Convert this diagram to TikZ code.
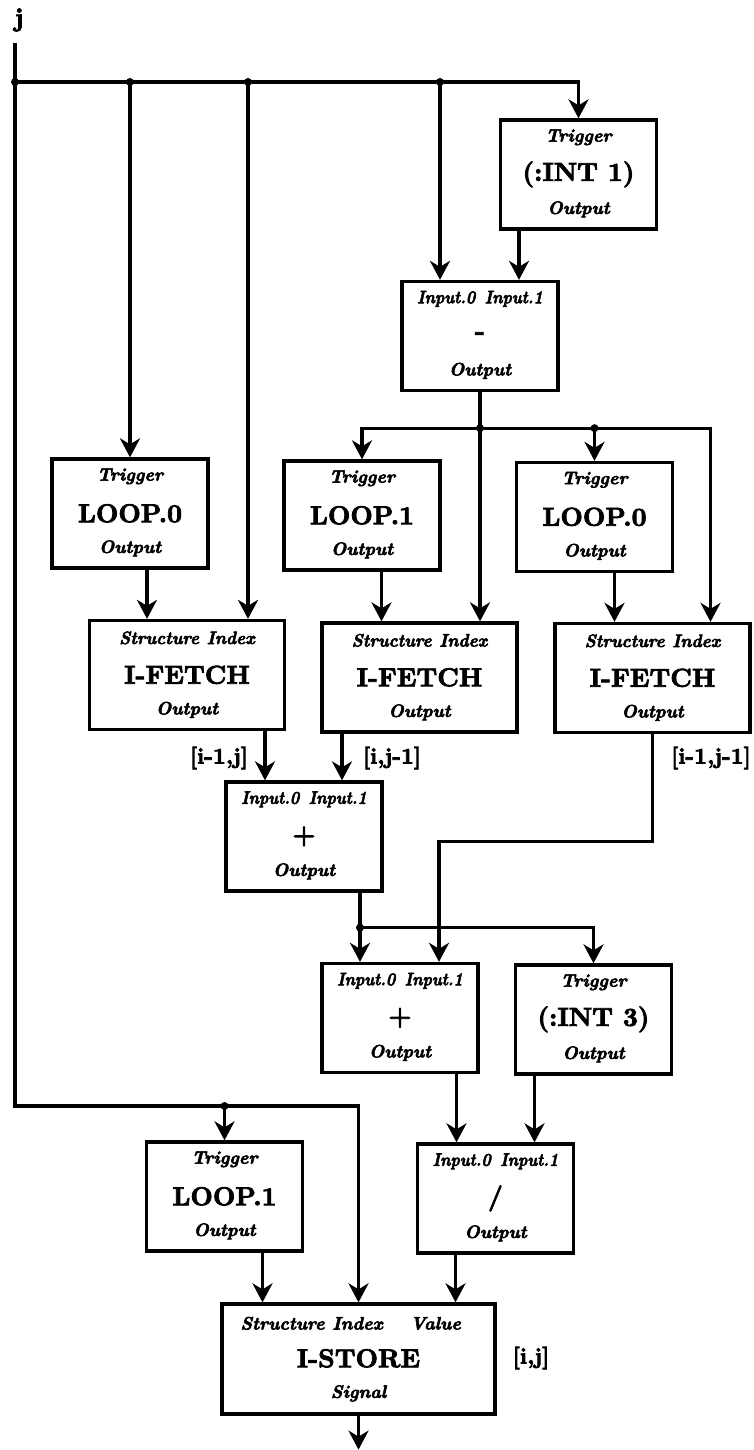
\documentclass[tikz,border=0pt]{standalone}
\usepackage{fontspec}
\usetikzlibrary{arrows.meta,calc}
\newfontface\bigface{lmroman10-bold.otf}[FakeBold=3]
\newfontface\smface{lmroman10-bolditalic.otf}[FakeBold=3]
\newcommand\smf{\smface\fontsize{18}{20}\selectfont}
\newcommand\bgf{\bigface\fontsize{26}{28}\selectfont}
\newcommand\lbf{\bigface\fontsize{22.5}{24}\selectfont}
\newcommand\jf{\bigface\fontsize{26}{28}\selectfont}
\tikzset{
  box/.style={draw, line width=3.3pt, minimum width=156pt, minimum height=109pt, inner sep=0pt},
  wide/.style={box, minimum width=195pt},
  arr/.style={-{Stealth[length=19pt,width=20pt,inset=6pt]}},
  dot/.style={circle, fill, inner sep=0pt, minimum size=8pt},
  port/.style={font=\smf, inner sep=0pt},
  op/.style={font=\bgf, inner sep=0pt},
  lab/.style={font=\lbf, inner sep=0pt},
}
% name, style, center, top text, middle text, bottom text
\newcommand\blk[6]{%
  \node[#2] (#1) at (#3) {};
  \node[port] (#1-t) at ([yshift=-19pt]#1.north) {#4};
  \node[op]   (#1-m) at ([yshift=-56pt]#1.north) {#5};
  \node[port] (#1-b) at ([yshift=-91pt]#1.north) {#6};}
\newcommand\inp{\scalebox{0.88}[1]{Input.0\hspace{0.6em}Input.1}}
\newcommand\sti{\scalebox{0.95}[1]{Structure\hspace{0.45em}Index}}
\begin{document}
\begin{tikzpicture}[x=1pt,y=-1pt,line width=3.2pt]
\useasboundingbox (0,0) rectangle (753,1450);

% blocks
\blk{T1}{box}{578.5,174.5}{Trigger}{(:INT 1)}{Output}
\blk{M}{box}{480,336}{\inp}{-}{Output}
\blk{L0a}{box}{130,513.5}{Trigger}{LOOP.0}{Output}
\blk{L1a}{box}{362,515.5}{Trigger}{LOOP.1}{Output}
\blk{L0b}{box}{594.5,517}{Trigger}{LOOP.0}{Output}
\blk{F1}{wide}{187,675}{\sti}{I-FETCH}{Output}
\blk{F2}{wide}{419.5,677.5}{\sti}{I-FETCH}{Output}
\blk{F3}{wide}{652.5,678}{\sti}{I-FETCH}{Output}
\blk{P1}{box}{304,836.5}{\inp}{+}{Output}
\blk{P2}{box}{400,1018}{\inp}{+}{Output}
\blk{T3}{box}{593.5,1019.5}{Trigger}{(:INT 3)}{Output}
\blk{L1b}{box}{224.5,1196.5}{Trigger}{LOOP.1}{Output}
\blk{D}{box}{495.5,1198.5}{\inp}{/}{Output}
\blk{S}{box,minimum width=273pt,minimum height=110pt}{358.5,1359}{}{I-STORE}{Signal}
\node[port] (S-s) at ([xshift=-76pt,yshift=-21pt]S.north) {Structure};
\node[port] (S-i) at ([xshift=-1pt,yshift=-21pt]S.north) {Index};
\node[port] (S-v) at ([xshift=77pt,yshift=-21pt]S.north) {Value};

% labels
\node[font=\jf, inner sep=0pt] (jl) at (19,20) {j};
\node[lab] (l1) at (219,758) {[i-1,j]};
\node[lab] (l2) at (392,758) {[i,j-1]};
\node[lab] (l3) at (711,758) {[i-1,j-1]};
\node[lab] (l4) at (531,1358) {[i,j]};

% top bus
\coordinate (jtop) at (15,43);
\coordinate (b0) at (15,82);
\coordinate (tb) at (15,1106);
\draw (jtop) -- (b0);
\draw[arr] (b0) -| (T1.north);
\draw[arr] (b0 -| L0a.north) -- (L0a.north);
\draw[arr] ([xshift=61pt]F1.north |- b0) -- ([xshift=61pt]F1.north);
\draw[arr] ([xshift=-40pt]M.north |- b0) -- ([xshift=-40pt]M.north);
\node[dot] (d0) at (b0) {};
\node[dot] (d1) at (b0 -| L0a.north) {};
\node[dot] (d2) at ([xshift=61pt]F1.north |- b0) {};
\node[dot] (d3) at ([xshift=-40pt]M.north |- b0) {};

% trunk to bottom
\draw[arr] (b0) -- (tb) -| (S.north);
\draw[arr] (tb -| L1b.north) -- (L1b.north);
\node[dot] (d4) at (tb -| L1b.north) {};

% T1 -> M
\draw[arr] ([xshift=39pt]M.north |- T1.south) -- ([xshift=39pt]M.north);

% M output bus
\path (M.south) ++(0,36) coordinate (mb);
\draw (M.south) -- (mb);
\draw[arr] (mb) -- (mb |- F2.north);
\draw[arr] (mb) -| (L1a.north);
\draw[arr] (mb) -| ([xshift=58pt]F3.north);
\draw[arr] (mb -| L0b.north) -- (L0b.north);
\node[dot] (d5) at (mb) {};
\node[dot] (d6) at (mb -| L0b.north) {};

% loops -> fetches
\draw[arr] ([xshift=-40pt]F1.north |- L0a.south) -- ([xshift=-40pt]F1.north);
\draw[arr] ([xshift=-38pt]F2.north |- L1a.south) -- ([xshift=-38pt]F2.north);
\draw[arr] ([xshift=-38pt]F3.north |- L0b.south) -- ([xshift=-38pt]F3.north);

% fetches -> adders
\draw[arr] ([xshift=-39pt]P1.north |- F1.south) -- ([xshift=-39pt]P1.north);
\draw[arr] ([xshift=38pt]P1.north |- F2.south) -- ([xshift=38pt]P1.north);
\draw[arr] (F3.south) -- ++(0,107) -| ([xshift=39pt]P2.north);

% P1 output bus
\path ([xshift=56pt]P1.south) ++(0,35) coordinate (pb);
\draw ([xshift=56pt]P1.south) -- (pb);
\draw[arr] (pb) -- (pb |- P2.north);
\draw[arr] (pb) -| (T3.north);
\node[dot] (d7) at (pb) {};

% -> divide
\draw[arr] ([xshift=-39pt]D.north |- P2.south) -- ([xshift=-39pt]D.north);
\draw[arr] ([xshift=39pt]D.north |- T3.south) -- ([xshift=39pt]D.north);

% -> store
\draw[arr] ([xshift=-96pt]S.north |- L1b.south) -- ([xshift=-96pt]S.north);
\draw[arr] ([xshift=97pt]S.north |- D.south) -- ([xshift=97pt]S.north);
\path (S.south) ++(0,34) coordinate (sout);
\draw[arr] (S.south) -- (sout);
\end{tikzpicture}
\end{document}
